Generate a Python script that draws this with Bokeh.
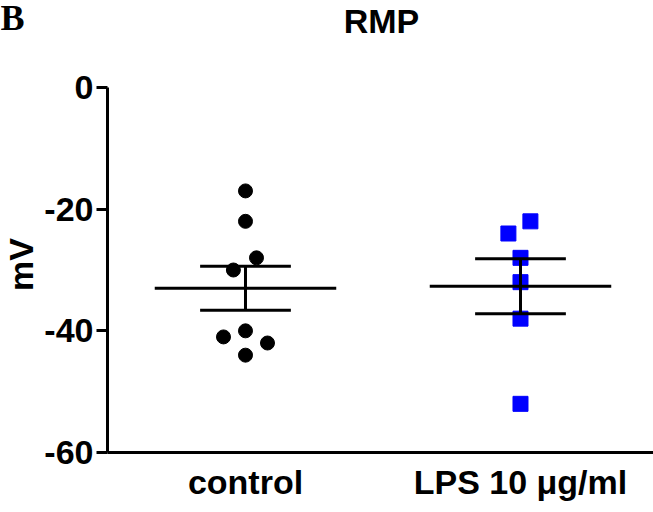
import numpy as np
from bokeh.plotting import figure
from bokeh.models import Range1d, FixedTicker, Label
from bokeh.embed import file_html
from bokeh.resources import INLINE

# ---- data ----
groups = ["control", "LPS 10 μg/ml"]
control_mv = [-17, -22, -28, -30, -40, -41, -42, -44]
control_jitter = [0.0, 0.0, 0.04, -0.044, 0.0, -0.08, 0.08, 0.0]
lps_mv = [-22, -24, -28, -32, -38, -52]
lps_jitter = [0.036, -0.044, 0.0, 0.0, 0.0, 0.0]
y_ticks = [0, -20, -40, -60]
y_tick_labels = ["0", "-20", "-40", "-60"]
y_min, y_max = -60, 0
x_min, x_max = 0.4982, 2.4836
title_text = "RMP"
panel_letter = "B"
y_label = "mV"

FONT = "Liberation Sans"
FS = "34px"

# canvas pixel -> data helpers (axes corner at pixel (107, 452), 275 px per x unit)
PX_PER_X = 275.0
PX_PER_Y = 365.0 / (y_max - y_min)

def px_x(px):
    return x_min + (px - 107) / PX_PER_X

def px_y(py):
    return y_max - (py - 87) / PX_PER_Y

p = figure(width=653, height=512, output_backend="svg", toolbar_location=None,
           x_range=Range1d(px_x(0), px_x(653)), y_range=Range1d(px_y(512), px_y(0)),
           min_border=0)
p.outline_line_color = None
p.grid.visible = False
p.background_fill_color = "white"
p.border_fill_color = "white"

# axes drawn at fixed positions, limited to the data extent
p.yaxis.fixed_location = x_min
p.yaxis.bounds = (y_min, y_max)
p.yaxis.ticker = FixedTicker(ticks=y_ticks)
p.yaxis.major_label_overrides = {t: s for t, s in zip(y_ticks, y_tick_labels)}
p.yaxis.minor_tick_line_color = None
p.yaxis.major_tick_in = 0
p.yaxis.major_tick_out = 11
p.yaxis.major_tick_line_width = 3
p.yaxis.axis_line_width = 3
p.yaxis.major_label_text_font = FONT
p.yaxis.major_label_text_font_size = FS
p.yaxis.major_label_text_font_style = "bold"
p.yaxis.major_label_text_color = "black"
p.yaxis.major_label_standoff = 3

p.xaxis.fixed_location = y_min
p.xaxis.bounds = (x_min, x_max)
p.xaxis.ticker = FixedTicker(ticks=[1, 2])
p.xaxis.major_label_overrides = {1: groups[0], 2: groups[1]}
p.xaxis.minor_tick_line_color = None
p.xaxis.major_tick_in = 0
p.xaxis.major_tick_out = 0
p.xaxis.axis_line_width = 3
p.xaxis.major_label_text_font = FONT
p.xaxis.major_label_text_font_size = FS
p.xaxis.major_label_text_font_style = "bold"
p.xaxis.major_label_text_color = "black"
p.xaxis.major_label_standoff = 10

# points
cx = [1 + j for j in control_jitter]
lx = [2 + j for j in lps_jitter]
p.scatter(cx, control_mv, marker="circle", size=14, color="black")
p.scatter(lx, lps_mv, marker="square", size=15, color="#0000FF")

# mean +- SEM
for xc, vals in [(1, control_mv), (2, lps_mv)]:
    a = np.array(vals, dtype=float)
    m = a.mean()
    sem = a.std(ddof=1) / np.sqrt(len(a))
    p.segment(x0=[xc - 0.33], y0=[m], x1=[xc + 0.33], y1=[m], line_width=3, color="black")
    p.segment(x0=[xc - 0.165, xc - 0.165], y0=[m + sem, m - sem],
              x1=[xc + 0.165, xc + 0.165], y1=[m + sem, m - sem], line_width=3, color="black")
    p.segment(x0=[xc], y0=[m - sem], x1=[xc], y1=[m + sem], line_width=3, color="black")

# chart title
p.add_layout(Label(x=px_x(381), y=px_y(20), text=title_text,
                   text_font=FONT, text_font_style="bold", text_font_size=FS,
                   text_color="black", text_align="center", text_baseline="alphabetic"))

# y axis title
p.add_layout(Label(x=px_x(20), y=px_y(264), text=y_label, angle=np.pi / 2,
                   text_font=FONT, text_font_style="bold", text_font_size=FS,
                   text_color="black", text_align="center", text_baseline="middle"))

# panel letter
p.add_layout(Label(x=px_x(0), y=px_y(17), text=panel_letter,
                   text_font="Liberation Serif", text_font_style="bold", text_font_size="36px",
                   text_color="black", text_align="left", text_baseline="alphabetic"))

open("out.html", "w").write(file_html(p, INLINE))
